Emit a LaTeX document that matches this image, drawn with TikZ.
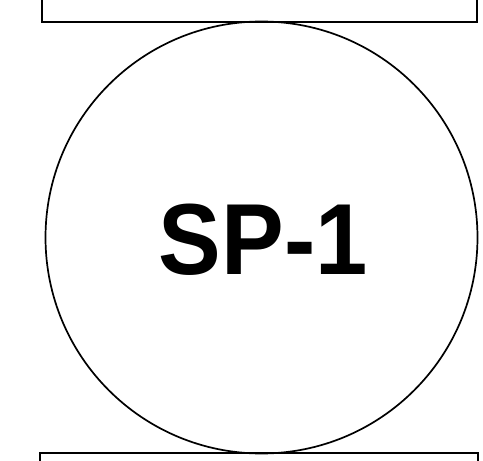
\documentclass[tikz,border=0pt]{standalone}
\usepackage{fontspec}
\setmainfont{Liberation Sans}
\begin{document}
\begin{tikzpicture}[x=1pt,y=-1pt,
  box/.style={draw=black,line width=1.9pt,fill=white,inner sep=0pt},
  tank/.style={draw=black,line width=1.7pt,circle,inner sep=0pt,minimum size=432pt},
  lbl/.style={font=\fontsize{101}{101}\selectfont\bfseries,inner sep=0pt,anchor=base west,xscale=0.93}]
\useasboundingbox (0,0) rectangle (483,461);
\node[box,minimum width=435pt,minimum height=40pt] (topbox) at (259.5,2) {};
\node[box,minimum width=438pt,minimum height=40pt] (botbox) at (259,473) {};
\node[tank] (sp) at (261.5,237.5) {};
\node[lbl] (t) at (158.8,274) {SP-1};
\end{tikzpicture}
\end{document}
